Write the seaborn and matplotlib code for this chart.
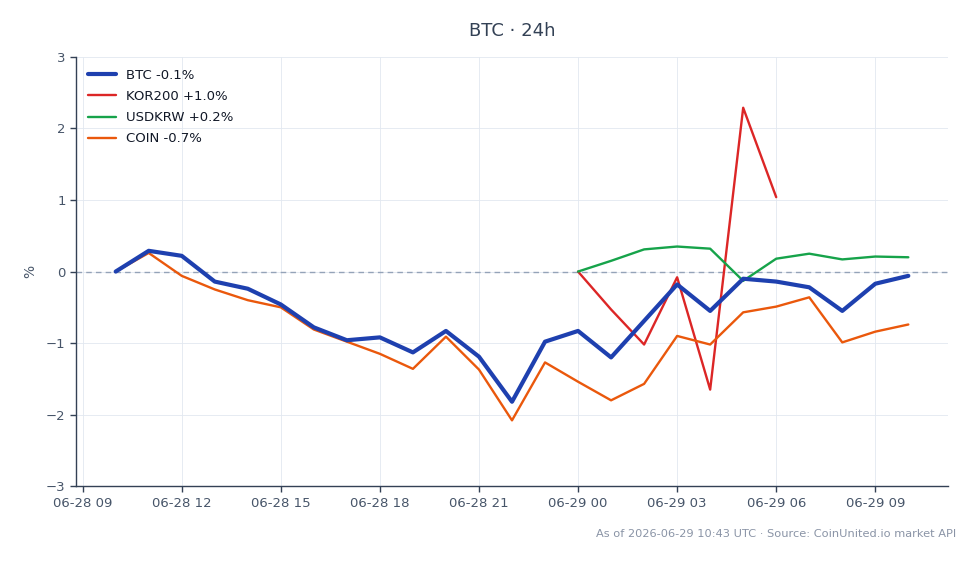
import pandas as pd
import seaborn as sns
import matplotlib.pyplot as plt
import matplotlib.dates as mdates

# ==================== Data ====================

HOURS = pd.date_range('2026-06-28 10:00', '2026-06-29 10:00', freq='h')

BTC = [0.0, 0.29, 0.22, -0.14, -0.24, -0.46, -0.78, -0.96, -0.92, -1.13, -0.83, -1.19,
       -1.82, -0.98, -0.83, -1.20, -0.69, -0.18, -0.55, -0.10, -0.14, -0.22, -0.55,
       -0.17, -0.06]
COIN = [0.0, 0.26, -0.06, -0.25, -0.40, -0.50, -0.81, -0.98, -1.15, -1.36, -0.91, -1.37,
        -2.08, -1.27, -1.54, -1.80, -1.57, -0.90, -1.02, -0.57, -0.49, -0.36, -0.99,
        -0.84, -0.74]
# KOR200 and USDKRW start at 06-29 00:00
KOR200 = [0.0, -0.53, -1.02, -0.08, -1.65, 2.29, 1.04]
USDKRW = [0.0, 0.15, 0.31, 0.35, 0.32, -0.13, 0.18, 0.25, 0.17, 0.21, 0.20]

LABELS = {
    'BTC': 'BTC -0.1%',
    'KOR200': 'KOR200 +1.0%',
    'USDKRW': 'USDKRW +0.2%',
    'COIN': 'COIN -0.7%',
}
COLORS = {
    'BTC': '#1e40af',
    'KOR200': '#dc2626',
    'USDKRW': '#16a34a',
    'COIN': '#ea580c',
}
WIDTHS = {'BTC': 3.0, 'KOR200': 1.7, 'USDKRW': 1.7, 'COIN': 1.7}

FOOTER = 'As of 2026-06-29 10:43 UTC · Source: CoinUnited.io market API'

# ========================================================

def build_frame():
    start = 14  # index of 06-29 00:00
    parts = [
        pd.DataFrame({'time': HOURS, 'value': BTC, 'series': 'BTC'}),
        pd.DataFrame({'time': HOURS[start:start + len(KOR200)], 'value': KOR200, 'series': 'KOR200'}),
        pd.DataFrame({'time': HOURS[start:start + len(USDKRW)], 'value': USDKRW, 'series': 'USDKRW'}),
        pd.DataFrame({'time': HOURS, 'value': COIN, 'series': 'COIN'}),
    ]
    return pd.concat(parts, ignore_index=True)


def main():
    sns.set_style('white')
    plt.rcParams['font.family'] = ['DejaVu Sans']
    text_color = '#475569'
    axis_color = '#334155'

    df = build_frame()
    fig, ax = plt.subplots(figsize=(9.8, 5.64), dpi=100)
    fig.subplots_adjust(left=0.0776, right=0.9673, top=0.899, bottom=0.138)

    for name in ['BTC', 'KOR200', 'USDKRW', 'COIN']:
        sub = df[df['series'] == name]
        sns.lineplot(x='time', y='value', data=sub, ax=ax, color=COLORS[name],
                     linewidth=WIDTHS[name], label=LABELS[name], zorder=3 if name == 'BTC' else 2)

    ax.axhline(0, color='#94a3b8', linestyle=(0, (4, 3)), linewidth=1, zorder=1)

    ax.set_ylim(-3, 3)
    ax.set_yticks(range(-3, 4))
    ax.xaxis.set_major_locator(mdates.HourLocator(byhour=range(0, 24, 3)))
    ax.xaxis.set_major_formatter(mdates.DateFormatter('%m-%d %H'))

    ax.grid(True, color='#e2e8f0', linewidth=0.6)
    sns.despine(ax=ax)
    for side in ['left', 'bottom']:
        ax.spines[side].set_color(axis_color)
        ax.spines[side].set_linewidth(1)
    ax.tick_params(axis='both', colors=axis_color, labelcolor=text_color, labelsize=9.5,
                   direction='out', length=4, width=1, bottom=True, left=True)

    ax.set_xlabel('')
    ax.set_ylabel('%', color=text_color, fontsize=10, labelpad=6)
    ax.set_title('BTC · 24h', color='#334155', fontsize=13, pad=15)

    leg = ax.legend(loc='upper left', frameon=False, fontsize=9.5, handlelength=2.1,
                    borderaxespad=0.5, labelspacing=0.62)
    for text in leg.get_texts():
        text.set_color('#111827')

    fig.text(0.976, 0.054, FOOTER, ha='right', va='center', fontsize=8.2, color='#8a94a6')

    plt.savefig('out.png', dpi=100)
    plt.close()


if __name__ == '__main__':
    main()
